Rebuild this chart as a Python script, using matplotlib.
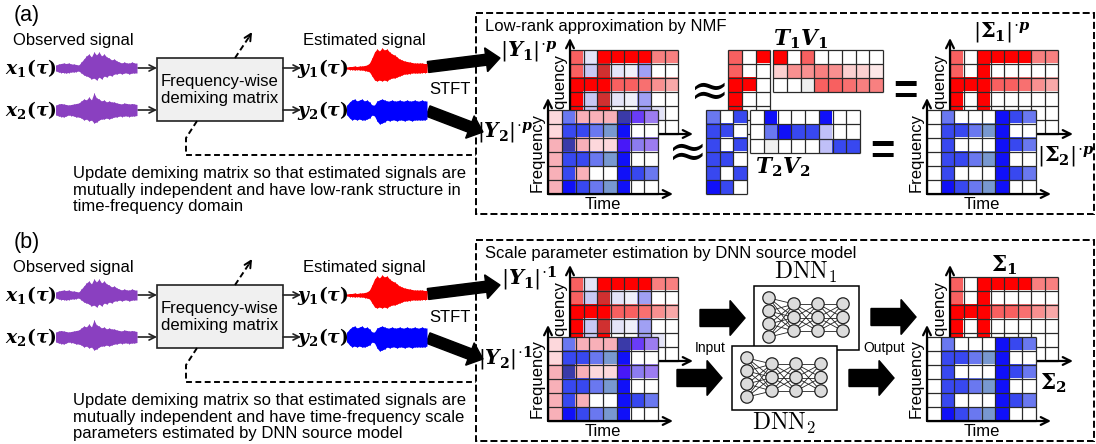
import matplotlib
matplotlib.use("Agg")
import matplotlib.pyplot as plt
import numpy as np
from matplotlib.colors import to_rgb
from matplotlib.patches import Rectangle, Circle

plt.rcParams.update({
    "font.family": "Liberation Sans",
    "mathtext.fontset": "dejavuserif",
})

W, H = 1096, 444
DY = 227          # panel (b) sits this many pixels below panel (a)
FS = 12

# cell colours, one letter per cell
PALETTE = {
    "w": "#ffffff", "g": "#f0f0f0",
    "R": "#ff0000", "r": "#f86060", "o": "#f87070", "q": "#f88080",
    "d": "#f89090", "p": "#f8a8a8", "k": "#fcd0d0", "e": "#fde8e8",
    "D": "#d03030", "h": "#f8b0b8", "j": "#fdd8dc",
    "B": "#1010f8", "b": "#3848f0", "m": "#6a78f0", "s": "#7898d0",
    "n": "#3a3aa8", "v": "#6a3cf8", "u": "#9c7cf0", "x": "#4818f8",
    "y": "#8c7cf0", "l": "#c8c8f4", "L": "#e4e4f8", "z": "#f0f0fa",
    "a": "#a0a0f4", "c": "#c0c0f8",
}

# spectrogram-like matrices, top row first
Y1 = ["rLRRRRqq", "rlDLzaww", "RRRrrodp", "RlDLzaww", "RlRwwaLw", "RlDLzaww"]
Y2 = ["jmhhhnvu", "jbbmsBww", "hnhjjxyu", "hbbmsBww", "hbhwwBbm", "hBbmsBww"]
S1 = ["rwRRRRqq", "rwRwwwww", "RRRrrodp", "RwRwwwww", "RwRwwwww", "RwRwwwww"]
S2 = ["wmwwwBbm", "wbbmsBww", "wbwwwBbm", "wbbmsBww", "wbwwwBbm", "wBbmsBww"]
T1 = ["rwR", "rww", "RRw", "Rww", "Rww", "Rww"]
V1 = ["Rwrwwwww", "kddqdkke", "wwgrroqq"]
T2 = ["mwb", "bbw", "bwb", "bbw", "bwb", "Bbw"]
V2 = ["wBwwwBww", "wmBbbcww", "wgwwwcbb"]

# waveform envelopes (amplitude above / below the centre line)
X1_UP = [3, 4, 4.5, 5, 4.5, 5, 4, 4, 3.5, 3, 6, 9, 12, 14, 11, 16, 13, 16, 12, 14, 11, 10,
         8, 9, 7, 6, 5, 6, 5, 5, 6, 5, 5]
X1_DN = [3, 4, 4.5, 4.5, 5, 4.5, 4, 4, 3.5, 3, 5, 7, 8, 9, 11, 10, 12, 9, 11, 8, 9, 7,
         8, 6, 6, 5, 6, 5, 5, 6, 5, 5, 5]
X2_UP = [5, 6, 6.5, 6, 5.5, 5, 5.5, 6, 6.5, 7, 9, 11, 10, 13, 10, 17, 12, 11, 9, 10, 8, 9,
         8, 8, 7, 6.5, 6, 7, 6.5, 6, 6.5, 6, 5.5]
X2_DN = [5, 6, 6.5, 7, 6, 5, 5.5, 6, 7, 7, 8, 10, 9, 11, 10, 13, 12, 10, 9, 9, 8, 9,
         8, 7, 7, 6, 6.5, 6, 6, 6.5, 6, 6, 5.5]
E1_UP = [1, 1.5, 1.5, 2, 1.5, 2, 2, 2.5, 3, 5, 10, 16, 19, 17, 20, 18, 19, 16, 14, 13, 11, 9,
         8, 7, 6.5, 6, 5.5, 5, 5, 5, 5, 4.5, 4.5]
E1_DN = [1, 1.5, 1.5, 2, 1.5, 2, 2, 2.5, 3, 4, 8, 12, 13, 12, 13, 12, 13, 11, 10, 10, 9, 8,
         7, 6, 6, 5.5, 5, 5, 5, 5, 4.5, 4.5, 4.5]
E2_UP = [5, 8, 10, 11, 9, 10, 11, 9, 10, 8, 5, 5, 9, 10, 11, 10, 9, 9, 10, 9, 9, 10,
         9, 9, 10, 9, 9, 10, 9, 9, 10, 9, 9]
E2_DN = [5, 8, 10, 9, 10, 9, 10, 10, 9, 8, 5, 6, 11, 14, 13, 12, 10, 11, 10, 10, 11, 10,
         10, 11, 10, 10, 11, 10, 10, 10, 10, 10, 9]

NET_LAYERS = [4, 3, 3, 3]

UPDATE_A = ("Update demixing matrix so that estimated signals are\n"
            "mutually independent and have low-rank structure in\n"
            "time-frequency domain")
UPDATE_B = ("Update demixing matrix so that estimated signals are\n"
            "mutually independent and have time-frequency scale\n"
            "parameters estimated by DNN source model")

fig = plt.figure(figsize=(W / 100, H / 100), dpi=100)
ax = fig.add_axes([0, 0, 1, 1])
ax.set_xlim(0, W)
ax.set_ylim(H, 0)
ax.axis("off")


def px_axes(x0, y0, x1, y1):
    a = fig.add_axes([x0 / W, 1 - y1 / H, (x1 - x0) / W, (y1 - y0) / H])
    a.patch.set_visible(False)
    return a


def heat(x0, y0, x1, y1, rows, axes_arrows=True):
    a = px_axes(x0, y0, x1, y1)
    rgb = np.array([[to_rgb(PALETTE[c]) for c in r] for r in rows])
    nr, nc = rgb.shape[:2]
    a.imshow(rgb, extent=(0, nc, nr, 0), aspect="auto", interpolation="nearest")
    a.hlines(range(nr + 1), 0, nc, color="#2a2a2a", lw=0.9, clip_on=False)
    a.vlines(range(nc + 1), 0, nr, color="#2a2a2a", lw=0.9, clip_on=False)
    a.set_xlim(0, nc)
    a.set_ylim(nr, 0)
    a.axis("off")
    if axes_arrows:
        w, h = x1 - x0, y1 - y0
        ap = dict(arrowstyle="->", lw=1.6, color="k", shrinkA=0, shrinkB=0,
                  mutation_scale=14)
        a.annotate("", xy=(0, 1 + 12 / h), xytext=(0, 0), xycoords="axes fraction",
                   arrowprops=ap, annotation_clip=False)
        a.annotate("", xy=(1 + 15 / w, 0), xytext=(0, 0), xycoords="axes fraction",
                   arrowprops=ap, annotation_clip=False)
        a.text(-11 / w, 0.5, "Frequency", rotation=90, ha="center", va="center",
               transform=a.transAxes, fontsize=FS, clip_on=False)
        a.text(0.5, -10 / h, "Time", ha="center", va="center",
               transform=a.transAxes, fontsize=FS, clip_on=False)
    return a


def wave(x0, x1, cy, up, dn, color):
    a = px_axes(x0, cy - 22, x1, cy + 22)
    t = np.arange(len(up))
    a.fill_between(t, up, -np.asarray(dn), color=color, lw=0)
    a.vlines(t, -np.asarray(dn), up, color=color, lw=0.7)
    a.set_xlim(0, len(up) - 1)
    a.set_ylim(-22, 22)
    a.axis("off")


def thin_arrow(x0, y0, x1, y1):
    ax.annotate("", xy=(x1, y1), xytext=(x0, y0),
                arrowprops=dict(arrowstyle="->", lw=1.2, color="#222",
                                shrinkA=0, shrinkB=0, mutation_scale=11))


def math(x, y, s, size, fam="dejavuserif"):
    ax.text(x, y, s, fontsize=size, ha="center", va="center", math_fontfamily=fam)


def left_panel(dy, label, update_text):
    ax.text(27, 15 + dy, label, fontsize=15.5, ha="center", va="center")
    ax.text(73, 40 + dy, "Observed signal", fontsize=FS, ha="center", va="center")
    ax.text(364, 40 + dy, "Estimated signal", fontsize=FS, ha="center", va="center")
    for name, xx in (("x", 31), ("y", 323)):
        for k, yy in (("1", 68), ("2", 110)):
            math(xx, yy + dy, r"$\mathbfit{%s}_{\mathbf{%s}}\mathbf{(}\mathbfit{\tau}\mathbf{)}$"
                 % (name, k), 13.5)
    wave(56, 137, 68 + dy, X1_UP, X1_DN, "#8a40c0")
    wave(56, 137, 110 + dy, X2_UP, X2_DN, "#8a40c0")
    wave(347, 427, 68 + dy, E1_UP, E1_DN, "#ff0000")
    wave(347, 427, 110 + dy, E2_UP, E2_DN, "#0000ff")
    ax.add_patch(Rectangle((157, 58 + dy), 126, 63, fc="#f0f0f0", ec="#222", lw=1.2))
    ax.text(220, 90 + dy, "Frequency-wise\ndemixing matrix", fontsize=FS,
            ha="center", va="center", linespacing=1.15)
    for yy in (68, 110):
        thin_arrow(138, yy + dy, 157, yy + dy)
        thin_arrow(283, yy + dy, 301, yy + dy)
    # dashed update arrow and feedback path
    ax.plot([235, 249], [58 + dy, 37 + dy], color="k", lw=1.4, ls=(0, (3, 1.8)))
    ax.annotate("", xy=(252, 32 + dy), xytext=(249, 37 + dy),
                arrowprops=dict(arrowstyle="->", lw=1.4, color="k", shrinkA=0,
                                shrinkB=0, mutation_scale=12))
    ax.plot([197, 186, 186, 476], [121 + dy, 138 + dy, 155 + dy, 155 + dy],
            color="k", lw=1.4, ls=(0, (3, 1.8)))
    ax.text(450, 90 + dy, "STFT", fontsize=FS, ha="center", va="center")
    ax.text(73, 190 + dy, update_text, fontsize=FS, ha="left", va="center",
            linespacing=1.1)
    # thick STFT arrows
    ax.arrow(428, 67 + dy, 72, -9, width=11, head_width=24, head_length=14,
             length_includes_head=True, fc="k", ec="k")
    ax.arrow(428, 111 + dy, 55, 21, width=11, head_width=24, head_length=14,
             length_includes_head=True, fc="k", ec="k")
    ax.add_patch(Rectangle((476, 13 + dy), 618, 201, fill=False, ec="k", lw=1.4,
                           ls=(0, (3.6, 1.6))))


left_panel(0, "(a)", UPDATE_A)
left_panel(DY, "(b)", UPDATE_B)

# ---- (a) right: NMF --------------------------------------------------------
ax.text(485, 27, "Low-rank approximation by NMF", fontsize=FS, ha="left", va="center")
heat(570, 50, 678, 134, Y1)
heat(548, 110, 658, 194, Y2)
heat(728, 50, 770, 134, T1, False)
heat(773, 50, 883, 92, V1, False)
heat(706, 110, 747, 194, T2, False)
heat(750, 110, 860, 153, V2, False)
heat(950, 50, 1058, 134, S1)
heat(927, 110, 1036, 194, S2)

math(529, 52, r"$|\mathbfit{Y}_{\mathbf{1}}|^{\!\cdot\!\mathbfit{p}}$", 15)
math(505, 132, r"$|\mathbfit{Y}_{\mathbf{2}}|^{\!\cdot\!\mathbfit{p}}$", 14.5)
math(801, 39, r"$\mathbfit{T}_{\mathbf{1}}\mathbfit{V}_{\mathbf{1}}$", 15.5)
math(783, 167, r"$\mathbfit{T}_{\mathbf{2}}\mathbfit{V}_{\mathbf{2}}$", 15.5)
math(1002, 33, r"$|\mathbf{\Sigma}_{\mathbf{1}}|^{\!\cdot\!\mathbfit{p}}$", 15)
math(1066, 156, r"$|\mathbf{\Sigma}_{\mathbf{2}}|^{\!\cdot\!\mathbfit{p}}$", 15)
for (xx, yy) in ((704, 93), (682, 154)):
    ax.text(xx, yy, r"$\approx$", fontsize=34, ha="center", va="center")
for (xx, yy) in ((905, 93), (882, 153)):
    ax.text(xx, yy, "=", fontsize=30, ha="center", va="center", fontweight="bold")

# ---- (b) right: DNN --------------------------------------------------------
ax.text(485, 253, "Scale parameter estimation by DNN source model", fontsize=FS,
        ha="left", va="center")
heat(570, 50 + DY, 678, 134 + DY, Y1)
heat(548, 110 + DY, 658, 194 + DY, Y2)
heat(950, 50 + DY, 1058, 134 + DY, S1)
heat(927, 110 + DY, 1036, 194 + DY, S2)

math(529, 52 + DY, r"$|\mathbfit{Y}_{\mathbf{1}}|^{\!\cdot\!\mathbf{1}}$", 15)
math(505, 132 + DY, r"$|\mathbfit{Y}_{\mathbf{2}}|^{\!\cdot\!\mathbf{1}}$", 14.5)
math(1004, 265, r"$\mathbf{\Sigma}_{\mathbf{1}}$", 15.5)
math(1053, 383, r"$\mathbf{\Sigma}_{\mathbf{2}}$", 15.5)
math(806, 272, r"$\mathrm{DNN}_{\mathbf{1}}$", 17, "cm")
math(784, 423, r"$\mathrm{DNN}_{\mathbf{2}}$", 17, "cm")
ax.text(710, 348, "Input", fontsize=10, ha="center", va="center")
ax.text(884, 348, "Output", fontsize=10, ha="center", va="center")


def dnn_box(x0, y0, z):
    ax.add_patch(Rectangle((x0, y0), 105, 64, fc="white", ec="k", lw=1.1, zorder=z))
    xs = [x0 + 15, x0 + 40, x0 + 64, x0 + 89]
    ys4 = [y0 + 12, y0 + 25, y0 + 38, y0 + 51]
    ys3 = [y0 + 18, y0 + 31.5, y0 + 45]
    cols = [ys4 if n == 4 else ys3 for n in NET_LAYERS]
    for i in range(len(xs) - 1):
        for ya in cols[i]:
            for yb in cols[i + 1]:
                ax.plot([xs[i], xs[i + 1]], [ya, yb], color="#222", lw=0.6, zorder=z + 1)
    for xx, ys in zip(xs, cols):
        for yy in ys:
            ax.add_patch(Circle((xx, yy), 6.2, fc="#dcdcdc", ec="#222", lw=0.9, zorder=z + 2))


dnn_box(754, 286, 3)
dnn_box(732, 346, 6)

for (x0, y0) in ((700, 318), (677, 378), (871, 317), (849, 378)):
    ax.arrow(x0, y0, 45, 0, width=17, head_width=35, head_length=15,
             length_includes_head=True, fc="k", ec="k")

fig.savefig("out.png", dpi=100)
